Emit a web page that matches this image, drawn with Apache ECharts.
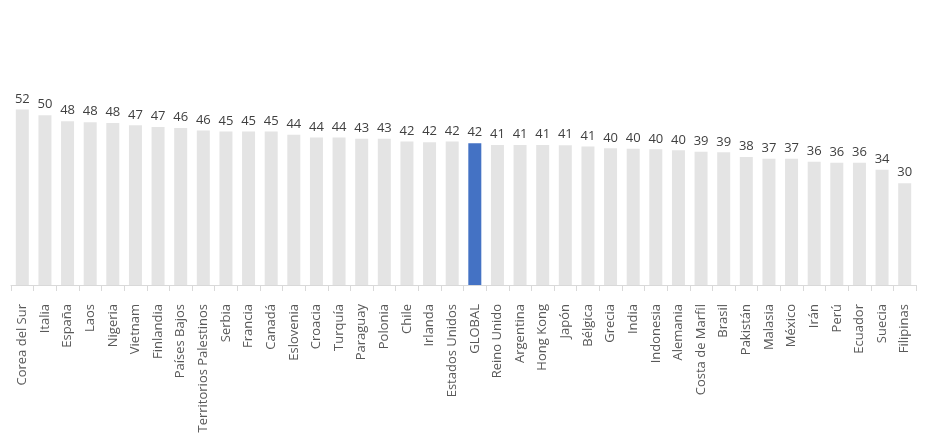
<!DOCTYPE html>
<html>
<head>
<meta charset="utf-8">
<script src="https://cdn.jsdelivr.net/npm/echarts@6/dist/echarts.min.js"></script>
<style>html,body{margin:0;padding:0;background:#fff}#c{width:928px;height:446px}</style>
</head>
<body>
<div id="c"></div>
<script>
const categories = ["Corea del Sur","Italia","España","Laos","Nigeria","Vietnam","Finlandia","Países Bajos","Territorios Palestinos","Serbia","Francia","Canadá","Eslovenia","Croacia","Turquía","Paraguay","Polonia","Chile","Irlanda","Estados Unidos","GLOBAL","Reino Unido","Argentina","Hong Kong","Japón","Bélgica","Grecia","India","Indonesia","Alemania","Costa de Marfil","Brasil","Pakistán","Malasia","México","Irán","Perú","Ecuador","Suecia","Filipinas"];
const values = [51.9,50.2,48.4,48.1,47.9,47.2,46.7,46.4,45.7,45.4,45.4,45.4,44.4,43.6,43.6,43.2,43.2,42.4,42.2,42.4,41.9,41.4,41.4,41.4,41.3,40.9,40.4,40.3,40.1,39.8,39.4,39.2,37.8,37.3,37.3,36.4,36.1,36.1,34.1,30.1];
const highlight = "GLOBAL";

const chart = echarts.init(document.getElementById('c'), null, {renderer:'canvas'});
chart.setOption({
  animation: false,
  grid: {left: 11, right: 12, top: 82, bottom: 161},
  xAxis: {
    type: 'category',
    data: categories,
    axisLine: {lineStyle: {color: '#d9d9d9', width: 1}},
    axisTick: {show: true, length: 6, lineStyle: {color: '#d9d9d9'}},
    axisLabel: {rotate: 90, interval: 0, margin: 19, color: '#595959', fontFamily: 'Open Sans', fontSize: 13}
  },
  yAxis: {
    type: 'value', min: 0, max: 60, show: false, splitLine: {show: false}
  },
  series: [{
    type: 'bar',
    barWidth: 13,
    data: values.map((v, i) => ({
      value: v,
      itemStyle: {color: categories[i] === highlight ? '#4472C4' : '#e4e4e4'}
    })),
    label: {
      show: true, position: 'top', distance: 4,
      color: '#404040', fontFamily: 'Open Sans', fontSize: 13,
      formatter: p => Math.round(p.value)
    }
  }]
});
</script>
</body>
</html>
